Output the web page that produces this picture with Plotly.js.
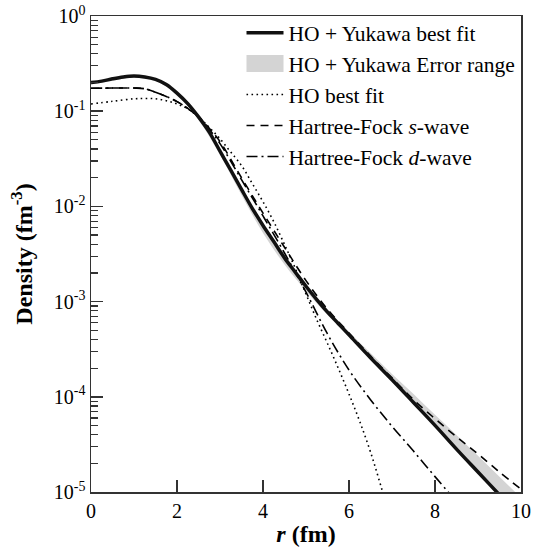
<!DOCTYPE html>
<html>
<head>
<meta charset="utf-8">
<script src="https://cdn.plot.ly/plotly-3.0.1.min.js"></script>
<style>html,body{margin:0;padding:0;background:#fff;}#chart{width:551px;height:552px;}</style>
</head>
<body>
<div id="chart"></div>
<script>
// HO + Yukawa best fit
const rFit = [0,0.25,0.5,0.75,1.0,1.25,1.5,1.75,2.0,2.25,2.5,2.75,3.0,3.25,3.5,3.75,4.0,4.25,4.5,4.75,5.0,5.25,5.5,5.75,6.0,6.5,7.0,7.5,8.0,8.5,9.0,9.5,10];
const densFit = [0.200,0.207,0.219,0.229,0.234,0.229,0.216,0.191,0.155,0.120,0.0871,0.0603,0.0380,0.0240,0.0151,0.00955,0.00631,0.00427,0.00288,0.00204,0.00145,0.00105,0.000776,0.000589,0.000447,0.000257,0.000151,0.0000871,0.0000501,0.0000282,0.0000162,0.00000933,0.00000537];
// HO + Yukawa error range
const rBand = [0,0.5,1.0,1.5,2.0,2.5,3.0,3.5,4.0,4.5,5.0,5.5,6.0,6.5,7.0,7.5,8.0,8.5,9.0,9.5,10];
const bandLow = [0.191,0.209,0.224,0.207,0.148,0.0813,0.0347,0.0132,0.00525,0.00245,0.00129,0.000724,0.000427,0.000251,0.000148,0.0000851,0.0000490,0.0000275,0.0000158,0.00000912,0.00000525];
const bandHigh = [0.200,0.219,0.237,0.219,0.158,0.0891,0.0389,0.0155,0.00646,0.00295,0.00151,0.000832,0.000479,0.000288,0.000174,0.000107,0.0000646,0.0000398,0.0000240,0.0000145,0.00000871];
// HO best fit
const rHO = [0,0.5,1.0,1.25,1.5,1.75,2.0,2.25,2.5,2.75,3.0,3.25,3.5,3.75,4.0,4.25,4.5,4.75,5.0,5.25,5.5,5.75,6.0,6.25,6.5,6.75,7.0];
const densHO = [0.119,0.127,0.135,0.136,0.135,0.129,0.119,0.106,0.0871,0.0676,0.0513,0.0372,0.0269,0.0174,0.0112,0.00692,0.00398,0.00224,0.00120,0.000646,0.000363,0.000200,0.000107,0.0000550,0.0000263,0.0000112,0.00000447];
// Hartree-Fock s-wave
const rS = [0,0.5,1.0,1.25,1.5,1.75,2.0,2.25,2.5,2.75,3.0,3.5,4.0,4.5,5.0,5.5,6.0,6.5,7.0,7.5,8.0,8.5,9.0,9.5,10];
const densS = [0.174,0.175,0.175,0.172,0.158,0.143,0.126,0.107,0.0871,0.0661,0.0479,0.0200,0.00851,0.00372,0.00166,0.000832,0.000468,0.000269,0.000158,0.0000933,0.0000589,0.0000380,0.0000251,0.0000162,0.0000107];
// Hartree-Fock d-wave
const rD = [0,0.5,1.0,1.25,1.5,1.75,2.0,2.25,2.5,2.75,3.0,3.5,4.0,4.5,5.0,5.5,6.0,6.5,7.0,7.5,8.0,8.5];
const densD = [0.174,0.175,0.175,0.172,0.158,0.143,0.126,0.107,0.0871,0.0646,0.0457,0.0191,0.00794,0.00324,0.00126,0.000457,0.000191,0.0000933,0.0000490,0.0000269,0.0000145,0.00000794];

const yTickVals = [1e-5,1e-4,1e-3,1e-2,1e-1,1];
const yTickText = ['10<sup>-5</sup>','10<sup>-4</sup>','10<sup>-3</sup>','10<sup>-2</sup>','10<sup>-1</sup>','10<sup>0</sup>'];
const xTickVals = [0,2,4,6,8,10];
const xTickText = ['0','2','4','6','8','10'];

const minorVals = [];
for (let e = -5; e < 0; e++) for (let m = 2; m <= 9; m++) minorVals.push(m * Math.pow(10, e));

const FONT = 'Liberation Serif, Times New Roman, serif';
const BAND = '#d4d4d4';

const traces = [
  {x: rBand, y: bandLow, mode: 'lines', line: {width: 0, color: 'rgba(0,0,0,0)', shape: 'spline'}, showlegend: false, hoverinfo: 'skip'},
  {x: rBand, y: bandHigh, mode: 'lines', fill: 'tonexty', fillcolor: BAND, line: {width: 0, color: BAND, shape: 'spline'}, name: 'HO + Yukawa Error range', legendrank: 2},
  {x: rHO, y: densHO, mode: 'lines', line: {color: '#000', width: 1.6, dash: '1.6px,3.4px', shape: 'spline'}, name: 'HO best fit', legendrank: 3},
  {x: rS, y: densS, mode: 'lines', line: {color: '#000', width: 1.6, dash: '8px,6px', shape: 'spline'}, name: 'Hartree-Fock <i>s</i>-wave', legendrank: 4},
  {x: rD, y: densD, mode: 'lines', line: {color: '#000', width: 1.6, dash: '11px,4px,2px,4px', shape: 'spline'}, name: 'Hartree-Fock <i>d</i>-wave', legendrank: 5},
  {x: rFit, y: densFit, mode: 'lines', line: {color: '#111', width: 3.5, shape: 'spline'}, name: 'HO + Yukawa best fit', legendrank: 1}
];

const layout = {
  width: 551, height: 552,
  margin: {l: 91, r: 30, t: 16, b: 60},
  paper_bgcolor: '#fff', plot_bgcolor: '#fff',
  font: {family: FONT, size: 20, color: '#000'},
  showlegend: true,
  legend: {x: 0.35, y: 1.008, xanchor: 'left', yanchor: 'top', bgcolor: 'rgba(0,0,0,0)', borderwidth: 0, traceorder: 'normal',
           font: {family: FONT, size: 21.5, color: '#000'}, tracegroupgap: 0, itemwidth: 37},
  xaxis: {range: [0, 10], tickmode: 'array', tickvals: xTickVals, ticktext: xTickText,
          ticks: 'inside', ticklen: 12, tickwidth: 1.5, tickcolor: '#333',
          showline: true, linecolor: '#333', linewidth: 1.5, mirror: true, showgrid: false, zeroline: false,
          title: {text: '<b><i>r</i> (fm)</b>', font: {family: FONT, size: 24}, standoff: 4},
          tickfont: {family: FONT, size: 20}},
  yaxis: {type: 'log', range: [-5, 0], tickmode: 'array', tickvals: yTickVals, ticktext: yTickText,
          ticks: 'inside', ticklen: 12, tickwidth: 1.5, tickcolor: '#333',
          minor: {tickmode: 'array', tickvals: minorVals, ticks: 'inside', ticklen: 7, tickwidth: 1.2, tickcolor: '#333', showgrid: false},
          showline: true, linecolor: '#333', linewidth: 1.5, mirror: true, showgrid: false, zeroline: false,
          title: {text: '<b>Density (fm<sup>-3</sup>)</b>', font: {family: FONT, size: 24}, standoff: 14},
          tickfont: {family: FONT, size: 20}}
};

Plotly.newPlot('chart', traces, layout, {staticPlot: true, displayModeBar: false}).then(function (gd) {
  // draw the error-range legend key as a filled box like the reference
  const items = gd.querySelectorAll('.legend .traces');
  let x0 = 5, w = 37;
  items.forEach(function (it) {
    const ln = it.querySelector('path.js-line');
    if (ln && it.textContent.indexOf('best fit') >= 0 && it.textContent.indexOf('HO +') >= 0) {
      try { const bb = ln.getBBox(); if (bb.width > 0) { x0 = bb.x; w = bb.width; } } catch (e) {}
    }
  });
  items.forEach(function (it) {
    if (it.textContent.indexOf('Error range') >= 0) {
      const f = it.querySelector('path.js-fill');
      if (f) {
        f.setAttribute('d', 'M' + x0 + ',-8.5h' + w + 'v17h-' + w + 'z');
        f.style.fill = BAND; f.style.fillOpacity = 1;
      }
      it.querySelectorAll('path.js-line').forEach(function (p) { p.style.display = 'none'; });
    }
  });
});
</script>
</body>
</html>
